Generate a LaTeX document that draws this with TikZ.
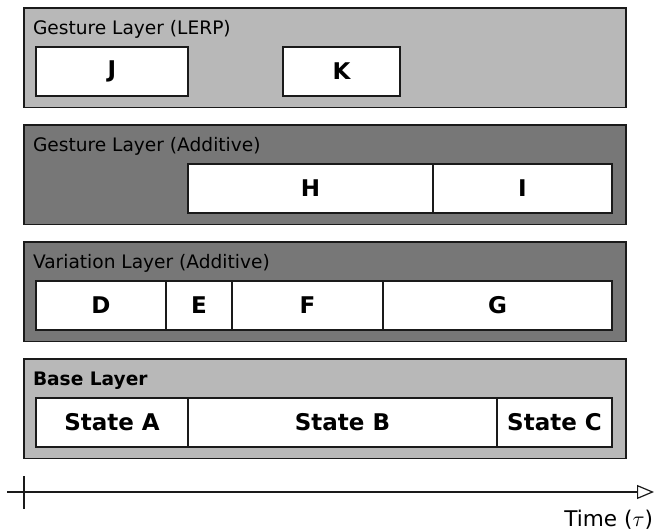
\documentclass[tikz,border=0pt]{standalone}
\usepackage{fontspec}
\setmainfont{DejaVu Sans}
\usepackage{tikz}
\usetikzlibrary{positioning,arrows.meta}
\definecolor{light}{HTML}{B8B8B8}
\definecolor{dark}{HTML}{777777}
\definecolor{edge}{HTML}{1A1A1A}

\begin{document}
\begin{tikzpicture}[x=0.5pt,y=-0.5pt,
    every node/.style={inner sep=0pt,outer sep=0pt},
    layer/.style={draw=edge,line width=.6pt,anchor=north west,minimum width=301pt,minimum height=49.75pt},
    title/.style={anchor=base west,font=\fontsize{9.3}{11}\selectfont},
    segment/.style={draw=edge,fill=white,line width=1pt,anchor=north west,minimum height=24.5pt,font=\fontsize{11.5}{13}\selectfont\bfseries},
    axis/.style={draw=edge,line width=.6pt}]
    \useasboundingbox (0,0) rectangle (654,530);
    \node[layer,fill=light] (lerp) at (24,8) {};
    \node[layer,fill=dark,below=8.75pt of lerp] (gesture) {};
    \node[layer,fill=dark,below=8.75pt of gesture] (variation) {};
    \node[layer,fill=light,below=8.75pt of variation] (base) {};
    \node[title] at ([shift={(9,26)}]lerp.north west) {Gesture Layer (LERP)};
    \node[title] at ([shift={(9,26)}]gesture.north west) {Gesture Layer (Additive)};
    \node[title] at ([shift={(9,26)}]variation.north west) {Variation Layer (Additive)};
    \node[title,font=\fontsize{9.3}{11}\selectfont\bfseries] at ([shift={(9,26)}]base.north west) {Base Layer};
    \node[segment,minimum width=76pt] (J) at ([shift={(12,39)}]lerp.north west) {J};
    \node[segment,minimum width=58.5pt,right=47.5pt of J] (K) {K};
    \node[segment,minimum width=122.5pt] (H) at ([shift={(164,39)}]gesture.north west) {H};
    \node[segment,minimum width=89.5pt,right=0pt of H] (I) {I};
    \node[segment,minimum width=65pt] (D) at ([shift={(12,39)}]variation.north west) {D};
    \node[segment,minimum width=33pt,right=0pt of D] (E) {E};
    \node[segment,minimum width=75.5pt,right=0pt of E] (F) {F};
    \node[segment,minimum width=114.5pt,right=0pt of F] (G) {G};
    \node[segment,minimum width=76pt] (stateA) at ([shift={(12,39)}]base.north west) {State A};
    \node[segment,minimum width=154.5pt,right=0pt of stateA] (stateB) {State B};
    \node[segment,minimum width=57.5pt,right=0pt of stateB] (stateC) {State C};
    \coordinate (origin) at (7,492);
    \coordinate (end) at (654,492);
    \coordinate (tick top) at (24,476);
    \coordinate (tick bottom) at (24,509);
    \draw[axis,-{Triangle[open,length=8.5pt,width=7pt]}] (origin) -- (end);
    \draw[axis] (tick top) -- (tick bottom);
    \node[anchor=base east,font=\fontsize{10.8}{13}\selectfont] (time) at (653,526) {Time ($\tau$)};
\end{tikzpicture}
\end{document}
